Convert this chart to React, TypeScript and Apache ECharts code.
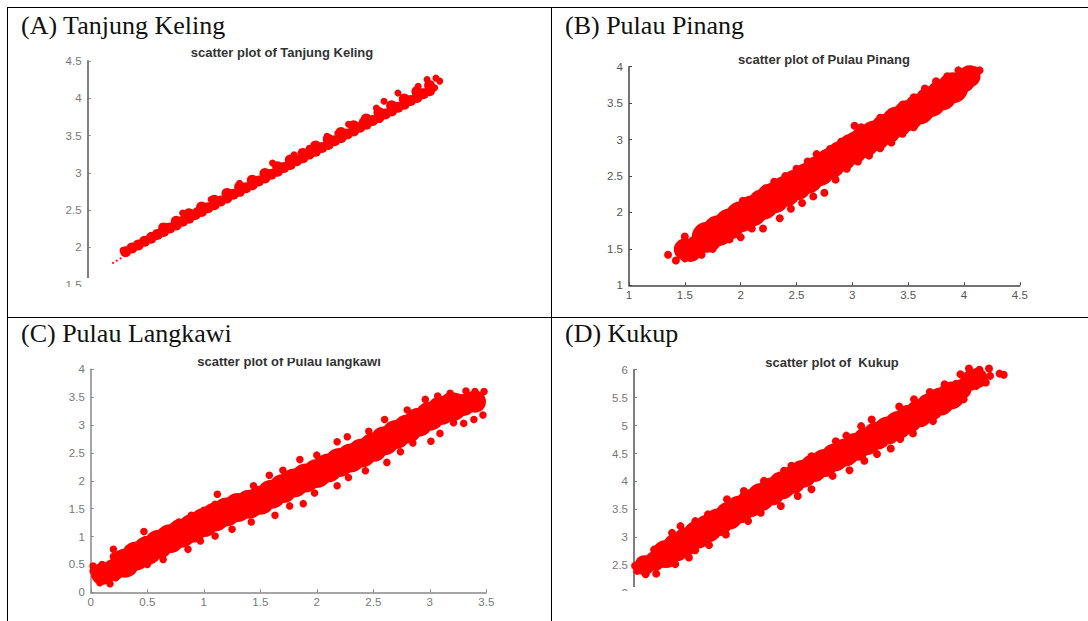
import React, { useEffect, useRef } from "react";
import * as echarts from "echarts";

const panelLabels = ["(A) Tanjung Keling", "(B) Pulau Pinang", "(C) Pulau Langkawi", "(D) Kukup"];
const plotTitles = ["scatter plot of Tanjung Keling", "scatter plot of Pulau Pinang", "scatter plot of Pulau langkawi", "scatter plot of  Kukup"];

type P = [number, number];

const tailA: P[] = [[1.7,1.79],[1.73,1.82],[1.76,1.85]];
const coreA: P[] = [[1.8,1.94],[1.85,1.99],[1.9,2.03],[1.95,2.08],[2,2.12],[2.05,2.17],[2.1,2.21],[2.15,2.26],[2.2,2.3],[2.25,2.35],[2.3,2.39],[2.35,2.44],[2.4,2.48],[2.45,2.53],[2.5,2.57],[2.55,2.62],[2.6,2.66],[2.65,2.71],[2.7,2.75],[2.75,2.8],[2.8,2.84],[2.85,2.89],[2.9,2.93],[2.95,2.98],[3,3.02],[3.05,3.07],[3.1,3.11],[3.15,3.16],[3.2,3.2],[3.25,3.25],[3.3,3.29],[3.35,3.34],[3.4,3.38],[3.45,3.43],[3.5,3.47],[3.55,3.52],[3.6,3.56],[3.65,3.61],[3.7,3.65],[3.75,3.7],[3.8,3.74],[3.85,3.79],[3.9,3.83],[3.95,3.88],[4,3.92],[4.05,3.97],[4.1,4.01],[4.15,4.06],[4.2,4.1]];
const midA: P[] = [[2.1,2.26],[2.2,2.35],[2.3,2.45],[2.4,2.54],[2.5,2.63],[2.6,2.72],[2.7,2.81],[2.8,2.9],[2.9,2.99],[3,3.08],[3.1,3.17],[3.2,3.26],[3.3,3.36],[3.4,3.45],[3.5,3.54],[3.6,3.63],[3.7,3.72],[3.8,3.81],[3.9,3.9],[4,3.99],[4.1,4.09],[4.2,4.17]];
const edgeA: P[] = [[1.78,1.96],[1.92,2.04],[2,2.16],[2.11,2.2],[2.25,2.46],[2.36,2.49],[2.475,2.64],[2.61,2.74],[2.7,2.86],[2.81,2.9],[2.92,3],[2.96,3.13],[3.09,3.13],[3.13,3.24],[3.25,3.33],[3.39,3.49],[3.475,3.53],[3.56,3.65],[3.67,3.69],[3.78,3.87],[3.84,3.96],[3.95,4.07],[4.11,4.16],[4.18,4.25],[4.28,4.23],[4.24,4.14],[4.25,4.27]];

const tipB: P[] = [[1.5,1.49],[1.55,1.47],[1.6,1.53],[4,3.8],[4.05,3.87]];
const coreB: P[] = [[1.7,1.66],[1.8,1.75],[1.9,1.84],[2,1.94],[2.1,2.02],[2.2,2.11],[2.3,2.2],[2.4,2.29],[2.5,2.38],[2.6,2.47],[2.7,2.57],[2.8,2.67],[2.9,2.77],[3,2.87],[3.1,2.96],[3.2,3.05],[3.3,3.14],[3.4,3.24],[3.5,3.33],[3.6,3.42],[3.7,3.52],[3.8,3.61],[3.9,3.71]];
const edgeB: P[] = [[1.5,1.67],[1.6,1.68],[1.68,1.74],[1.75,1.85],[1.85,1.96],[1.95,2.07],[2.02,2.16],[2.1,2.18],[2.2,2.3],[2.22,2.33],[2.3,2.42],[2.4,2.5],[2.5,2.6],[2.6,2.7],[2.68,2.8],[2.8,2.87],[2.9,2.97],[3,3.05],[3.02,3.19],[3.08,3.17],[3.15,3.15],[3.25,3.3],[3.35,3.38],[3.45,3.48],[3.55,3.58],[3.65,3.7],[3.75,3.8],[3.85,3.87],[3.95,3.95],[4.05,3.94],[4.1,3.95],[4.14,3.95],[1.35,1.42],[1.42,1.34],[1.5,1.37],[1.55,1.42],[1.65,1.42],[1.75,1.5],[1.9,1.63],[2,1.66],[2.1,1.78],[2.2,1.78],[2.35,1.92],[2.45,2.05],[2.55,2.13],[2.65,2.22],[2.75,2.27],[2.85,2.45],[2.95,2.6],[3.05,2.7],[3.15,2.78],[3.25,2.88],[3.35,2.96],[3.45,3.08],[3.55,3.17],[3.65,3.3],[3.75,3.4],[3.85,3.48],[3.95,3.63],[4.05,3.77],[1.5,1.5],[1.45,1.46],[1.55,1.55],[1.6,1.48]];

const tipC: P[] = [[0.1,0.33],[0.2,0.4],[3.3,3.36],[3.4,3.42]];
const coreC: P[] = [[0.3,0.52],[0.4,0.65],[0.5,0.75],[0.6,0.86],[0.7,0.96],[0.8,1.06],[0.9,1.15],[1,1.25],[1.1,1.35],[1.2,1.44],[1.3,1.52],[1.4,1.58],[1.5,1.65],[1.6,1.76],[1.7,1.86],[1.8,1.96],[1.9,2.05],[2,2.13],[2.1,2.23],[2.2,2.33],[2.3,2.41],[2.4,2.5],[2.5,2.6],[2.6,2.72],[2.7,2.83],[2.8,2.93],[2.9,3.05],[3,3.16],[3.1,3.26],[3.2,3.33]];
const edgeC: P[] = [[0.02,0.47],[0.1,0.5],[0.2,0.77],[0.2,0.64],[0.35,0.72],[0.47,1.09],[0.48,0.94],[0.57,1.01],[0.69,1.1],[0.78,1.26],[0.89,1.38],[1,1.47],[1.12,1.76],[1.1,1.58],[1.27,1.7],[1.44,1.91],[1.58,2.1],[1.7,2.19],[1.85,2.38],[2,2.46],[2.18,2.7],[2.27,2.79],[2.46,2.89],[2.6,3.1],[2.8,3.27],[2.96,3.46],[3.07,3.52],[3.18,3.57],[3.32,3.61],[3.48,3.6],[0.17,0.155],[0.08,0.17],[0.04,0.29],[0.02,0.38],[0.22,0.26],[0.35,0.38],[0.5,0.5],[0.64,0.59],[0.86,0.77],[0.97,0.92],[1.1,1.01],[1.25,1.13],[1.42,1.26],[1.63,1.38],[1.76,1.55],[1.88,1.59],[1.98,1.78],[2.18,1.91],[2.28,2.06],[2.43,2.18],[2.62,2.33],[2.74,2.52],[2.85,2.68],[3.01,2.71],[3.09,2.85],[3.3,3.03],[3.39,3.1],[3.47,3.18],[3.21,3.04],[3.37,3.37],[3.4,3.6],[3.25,3.5],[3.1,3.4],[2.95,3.3]];

const tipD: P[] = [[2.5,2.5],[2.6,2.58],[5.5,5.65],[5.58,5.8],[5.65,5.85]];
const coreD: P[] = [[2.7,2.7],[2.8,2.82],[2.9,2.93],[3,3.05],[3.1,3.16],[3.2,3.27],[3.3,3.39],[3.4,3.5],[3.5,3.61],[3.6,3.72],[3.7,3.82],[3.8,3.93],[3.9,4.03],[4,4.14],[4.1,4.24],[4.2,4.33],[4.3,4.43],[4.4,4.52],[4.5,4.62],[4.6,4.72],[4.7,4.82],[4.8,4.91],[4.9,5.01],[5,5.12],[5.1,5.22],[5.2,5.33],[5.3,5.43],[5.4,5.54]];
const edgeD: P[] = [[2.41,2.49],[2.48,2.58],[2.59,2.78],[2.76,3.08],[2.84,3.2],[2.98,3.29],[3.1,3.41],[3.28,3.68],[3.44,3.83],[3.63,4.01],[3.82,4.19],[3.89,4.28],[4.08,4.45],[4.31,4.72],[4.41,4.82],[4.55,4.99],[4.65,5.11],[4.91,5.34],[5.05,5.47],[5.2,5.6],[5.34,5.74],[5.49,5.92],[5.57,6.02],[5.67,6],[5.76,6.02],[5.86,5.93],[5.9,5.91],[2.43,2.4],[2.51,2.34],[2.61,2.35],[2.79,2.52],[2.92,2.64],[2.98,2.77],[3.11,2.86],[3.27,3.05],[3.48,3.29],[3.6,3.44],[3.79,3.56],[3.95,3.74],[4.08,3.86],[4.28,4.1],[4.44,4.2],[4.58,4.37],[4.7,4.49],[4.83,4.59],[4.92,4.76],[5.04,4.86],[5.23,5.08],[5.39,5.38],[5.52,5.47],[5.64,5.71],[5.73,5.77],[5.77,5.89],[5.6,5.85],[5.45,5.75],[5.55,5.7],[2.55,2.45],[2.52,2.5]];

const RED = "#ff0000";
const grids = [
  { left: 87.6, top: 61, width: 380, height: 223.5 },
  { left: 629, top: 66.7, width: 390.8, height: 218.6 },
  { left: 90.8, top: 369.3, width: 395.5, height: 223 },
  { left: 634, top: 369.7, width: 422.6, height: 223.5 },
];

function scatter(i: number, data: P[], size: number) {
  return {
    type: "scatter", xAxisIndex: i, yAxisIndex: i, data, symbol: "circle", symbolSize: size,
    clip: false, itemStyle: { color: RED, opacity: 1 }, silent: true,
  };
}

function yAxis(i: number, min: number, max: number, color: string, labelColor: string, w: number) {
  return {
    type: "value", gridIndex: i, min, max, interval: 0.5, splitLine: { show: false },
    axisLine: { show: true, onZero: false, lineStyle: { color, width: w } },
    axisTick: { show: true, inside: true, length: 3, lineStyle: { color, width: 1 } },
    axisLabel: { color: labelColor, fontSize: 11.5, fontFamily: "Liberation Sans", margin: 6 },
  };
}

function xAxis(i: number, min: number, max: number, show: boolean, color = "#888", labelColor = "#777", w = 1.5) {
  return {
    type: "value", gridIndex: i, min, max, interval: show ? 0.5 : undefined, show, splitLine: { show: false },
    axisLine: { show: true, onZero: false, lineStyle: { color, width: w } },
    axisTick: { show: true, inside: true, length: 3, lineStyle: { color, width: 1 } },
    axisLabel: { color: labelColor, fontSize: 11.5, fontFamily: "Liberation Sans", margin: 4 },
  };
}

const rule = (x1: number, y1: number, x2: number, y2: number) => ({
  type: "line", z: 120, shape: { x1, y1, x2, y2 }, style: { stroke: "#000", lineWidth: 1 },
});
const mask = (x: number, y: number, width: number, height: number) => ({
  type: "rect", z: 110, shape: { x, y, width, height }, style: { fill: "#fff" },
});
const heading = (text: string, x: number, y: number) => ({
  type: "text", z: 120, x, y,
  style: { text, fill: "#111", font: '26px "Liberation Serif"', textVerticalAlign: "middle" },
});

export default function App() {
  const ref = useRef<HTMLDivElement>(null);
  useEffect(() => {
    const chart = echarts.init(ref.current!, null, { renderer: "svg" });
    const tx = [282, 824, 289, 832];
    const ty = [52, 59, 361.5, 362];
    chart.setOption({
      animation: false,
      backgroundColor: "#fff",
      grid: grids.map((g) => ({ ...g, containLabel: false })),
      title: plotTitles.map((t, i) => ({
        text: t, left: tx[i], top: ty[i], textAlign: "center", textVerticalAlign: "middle",
        textStyle: { fontSize: 13, fontWeight: "bold", color: "#333", fontFamily: "Liberation Sans" }, padding: 0,
      })),
      xAxis: [xAxis(0, 1.5, 4.5, false), xAxis(1, 1, 4.5, true, "#444", "#555", 1.5), xAxis(2, 0, 3.5, true), xAxis(3, 2.4, 6.4, false)],
      yAxis: [
        yAxis(0, 1.5, 4.5, "#808080", "#777", 2),
        yAxis(1, 1, 4, "#444", "#555", 1.5),
        yAxis(2, 0, 4, "#888", "#777", 1.5),
        yAxis(3, 2, 6, "#808080", "#777", 2),
      ],
      series: [
        scatter(0, tailA, 2), scatter(0, coreA, 11), scatter(0, midA, 11), scatter(0, edgeA, 7),
        scatter(1, tipB, 22), scatter(1, coreB, 31), scatter(1, edgeB, 8),
        scatter(2, tipC, 22), scatter(2, coreC, 29), scatter(2, edgeC, 7.5),
        scatter(3, tipD, 20), scatter(3, coreD, 28), scatter(3, edgeD, 8),
      ],
      graphic: [
        mask(82, 278, 12, 12), mask(55, 287, 30, 10),
        mask(180, 350, 220, 8),
        mask(630, 587, 10, 10), mask(600, 591, 30, 10),
        rule(7.5, 7.5, 1088, 7.5), rule(7.5, 317.5, 1088, 317.5),
        rule(7.5, 7, 7.5, 621), rule(551.5, 7, 551.5, 621),
        heading(panelLabels[0], 21, 25), heading(panelLabels[1], 565, 25),
        heading(panelLabels[2], 21, 333), heading(panelLabels[3], 565, 333),
      ],
    });
    return () => chart.dispose();
  }, []);
  return <div ref={ref} style={{ position: "absolute", left: 0, top: 0, width: 1088, height: 621 }} />;
}
